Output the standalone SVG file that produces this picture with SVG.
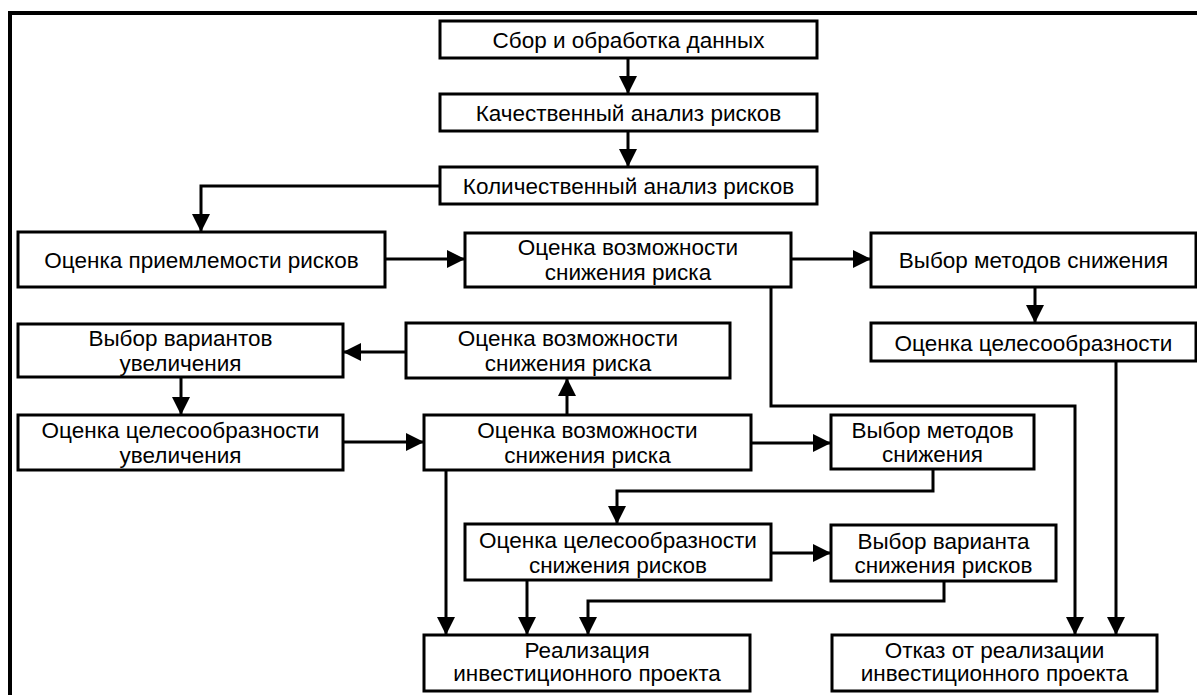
<svg xmlns="http://www.w3.org/2000/svg" width="1197" height="695" viewBox="0 0 1197 695">
<style>
.box{fill:#fff;stroke:#000;stroke-width:3}
.t{font-family:"Liberation Sans",Arial,sans-serif;font-size:22.5px;fill:#000;text-anchor:middle}
.c{fill:none;stroke:#000;stroke-width:3;marker-end:url(#ah)}
</style>
<defs>
<marker id="ah" markerUnits="userSpaceOnUse" markerWidth="18" markerHeight="18" viewBox="0 0 18 18" refX="18" refY="9" orient="auto">
<path d="M0,0 L18,9 L0,18 z" fill="#000"/>
</marker>
</defs>
<rect width="1197" height="695" fill="#fff"/>
<path d="M10,695 V13 H1197" fill="none" stroke="#000" stroke-width="4"/>
<g id="connectors">
<path class="c" d="M628,58 V94"/>
<path class="c" d="M628,131 V167"/>
<path class="c" d="M440,186 H201 V232"/>
<path class="c" d="M385,259 H465"/>
<path class="c" d="M791,259 H871"/>
<path class="c" d="M1035,287 V323"/>
<path class="c" d="M1116,361 V635"/>
<path class="c" d="M771,287 V406 H1075 V635"/>
<path class="c" d="M406,352 H343"/>
<path class="c" d="M567,415 V378"/>
<path class="c" d="M181,377 V415"/>
<path class="c" d="M343,442 H424"/>
<path class="c" d="M751,443 H831"/>
<path class="c" d="M933,469 V491 H617 V524"/>
<path class="c" d="M771,553 H831"/>
<path class="c" d="M944,581 V601 H588 V635"/>
<path class="c" d="M527,580 V635"/>
<path class="c" d="M446,470 V635"/>
</g>
<g id="b1"><rect class="box" x="440" y="21" width="377" height="37"/><text class="t" x="628.5" y="47.5">Сбор и обработка данных</text></g>
<g id="b2"><rect class="box" x="440" y="94" width="377" height="37"/><text class="t" x="628.5" y="120.5">Качественный анализ рисков</text></g>
<g id="b3"><rect class="box" x="440" y="167" width="377" height="37"/><text class="t" x="628.5" y="193.5">Количественный анализ рисков</text></g>
<g id="b4"><rect class="box" x="18" y="232" width="367" height="55"/><text class="t" x="201.5" y="267.5">Оценка приемлемости рисков</text></g>
<g id="b5"><rect class="box" x="465" y="233" width="326" height="54"/><text class="t" x="628" y="254.5">Оценка возможности</text><text class="t" x="628" y="279.5">снижения риска</text></g>
<g id="b6"><rect class="box" x="871" y="233" width="325" height="54"/><text class="t" x="1033.5" y="267.5">Выбор методов снижения</text></g>
<g id="b7"><rect class="box" x="871" y="323" width="325" height="38"/><text class="t" x="1033.5" y="350.5">Оценка целесообразности</text></g>
<g id="b8"><rect class="box" x="18" y="324" width="325" height="53"/><text class="t" x="180.5" y="346">Выбор вариантов</text><text class="t" x="180.5" y="371">увеличения</text></g>
<g id="b9"><rect class="box" x="406" y="323" width="324" height="55"/><text class="t" x="568" y="346">Оценка возможности</text><text class="t" x="568" y="371">снижения риска</text></g>
<g id="b11"><rect class="box" x="18" y="415" width="325" height="55"/><text class="t" x="180.5" y="438">Оценка целесообразности</text><text class="t" x="180.5" y="463">увеличения</text></g>
<g id="b10"><rect class="box" x="424" y="415" width="327" height="55"/><text class="t" x="587.5" y="438">Оценка возможности</text><text class="t" x="587.5" y="463">снижения риска</text></g>
<g id="b12"><rect class="box" x="831" y="415" width="203" height="54"/><text class="t" x="932.5" y="438">Выбор методов</text><text class="t" x="932.5" y="462">снижения</text></g>
<g id="b13"><rect class="box" x="465" y="524" width="306" height="56"/><text class="t" x="618" y="548">Оценка целесообразности</text><text class="t" x="618" y="573">снижения рисков</text></g>
<g id="b14"><rect class="box" x="831" y="525" width="225" height="56"/><text class="t" x="943.5" y="549">Выбор варианта</text><text class="t" x="943.5" y="573">снижения рисков</text></g>
<g id="b15"><rect class="box" x="424" y="635" width="326" height="56"/><text class="t" x="587" y="658">Реализация</text><text class="t" x="587" y="681">инвестиционного проекта</text></g>
<g id="b16"><rect class="box" x="832" y="635" width="325" height="56"/><text class="t" x="994.5" y="658">Отказ от реализации</text><text class="t" x="994.5" y="681">инвестиционного проекта</text></g>
</svg>
